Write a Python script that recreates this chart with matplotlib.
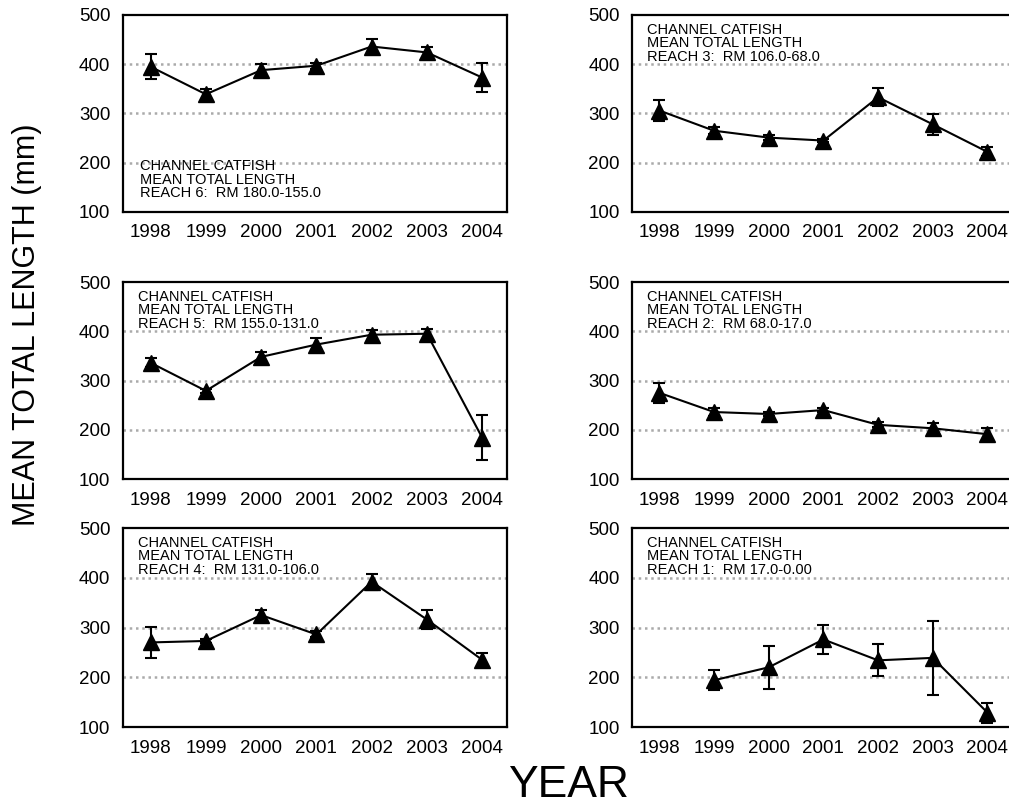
import matplotlib.pyplot as plt

plt.rcParams['font.family'] = ['Liberation Sans', 'DejaVu Sans']

years = [1998, 1999, 2000, 2001, 2002, 2003, 2004]

# mean total length and error for each reach
reach6_mean = [395, 339, 388, 397, 436, 424, 373]
reach6_err = [25, 10, 12, 6, 15, 10, 30]
reach3_mean = [306, 265, 251, 245, 333, 278, 222]
reach3_err = [21, 7, 5, 3, 18, 21, 9]
reach5_mean = [336, 279, 348, 373, 393, 395, 184]
reach5_err = [9, 4, 9, 13, 10, 10, 45]
reach2_mean = [275, 236, 232, 240, 210, 203, 191]
reach2_err = [20, 8, 4, 4, 5, 11, 12]
reach4_mean = [270, 273, 325, 286, 392, 316, 235]
reach4_err = [32, 4, 11, 6, 16, 19, 14]
reach1_years = [1999, 2000, 2001, 2002, 2003, 2004]
reach1_mean = [194, 220, 276, 234, 239, 129]
reach1_err = [20, 43, 30, 32, 75, 20]

labels = ['CHANNEL CATFISH\nMEAN TOTAL LENGTH\nREACH 6:  RM 180.0-155.0',
          'CHANNEL CATFISH\nMEAN TOTAL LENGTH\nREACH 3:  RM 106.0-68.0',
          'CHANNEL CATFISH\nMEAN TOTAL LENGTH\nREACH 5:  RM 155.0-131.0',
          'CHANNEL CATFISH\nMEAN TOTAL LENGTH\nREACH 2:  RM 68.0-17.0',
          'CHANNEL CATFISH\nMEAN TOTAL LENGTH\nREACH 4:  RM 131.0-106.0',
          'CHANNEL CATFISH\nMEAN TOTAL LENGTH\nREACH 1:  RM 17.0-0.00']

panels = [(years, reach6_mean, reach6_err),
          (years, reach3_mean, reach3_err),
          (years, reach5_mean, reach5_err),
          (years, reach2_mean, reach2_err),
          (years, reach4_mean, reach4_err),
          (reach1_years, reach1_mean, reach1_err)]

fig = plt.figure(figsize=(10.09, 8.06), dpi=100)

# axes boxes (left, bottom, width, height) in figure fractions
lefts = [0.1219, 0.6264]
widths = [0.3806, 0.3766]
bottoms = [0.7370, 0.4057, 0.0980]
heights = [0.2444, 0.2444, 0.2469]

for i in range(6):
    row = i // 2
    col = i % 2
    ax = fig.add_axes([lefts[col], bottoms[row], widths[col], heights[row]])
    x, m, e = panels[i]
    ax.errorbar(x, m, yerr=e, color='black', lw=1.5, marker='^', markersize=11,
                capsize=4.5, capthick=1.5, elinewidth=1.5)
    ax.set_xlim(1997.5, 2004.45)
    ax.set_ylim(100, 500)
    ax.set_xticks(years)
    ax.set_yticks([100, 200, 300, 400, 500])
    for g in [200, 300, 400]:
        ax.axhline(g, color='#aaaaaa', lw=1.8, ls=(0, (1, 1.5)), zorder=0)
    ax.tick_params(length=0, labelsize=13.5, pad=9)
    for s in ax.spines.values():
        s.set_linewidth(1.6)
    if i == 0:
        ax.text(0.045, 0.06, labels[i], transform=ax.transAxes, fontsize=10.5,
                va='bottom', ha='left', linespacing=0.95)
    else:
        ax.text(0.04, 0.96, labels[i], transform=ax.transAxes, fontsize=10.5,
                va='top', ha='left', linespacing=0.95)

fig.text(0.027, 0.597, 'MEAN TOTAL LENGTH (mm)', rotation=90, fontsize=22,
         ha='center', va='center')
fig.text(0.563, 0.026, 'YEAR', fontsize=32, ha='center', va='center')

plt.savefig('out.png', dpi=100)
